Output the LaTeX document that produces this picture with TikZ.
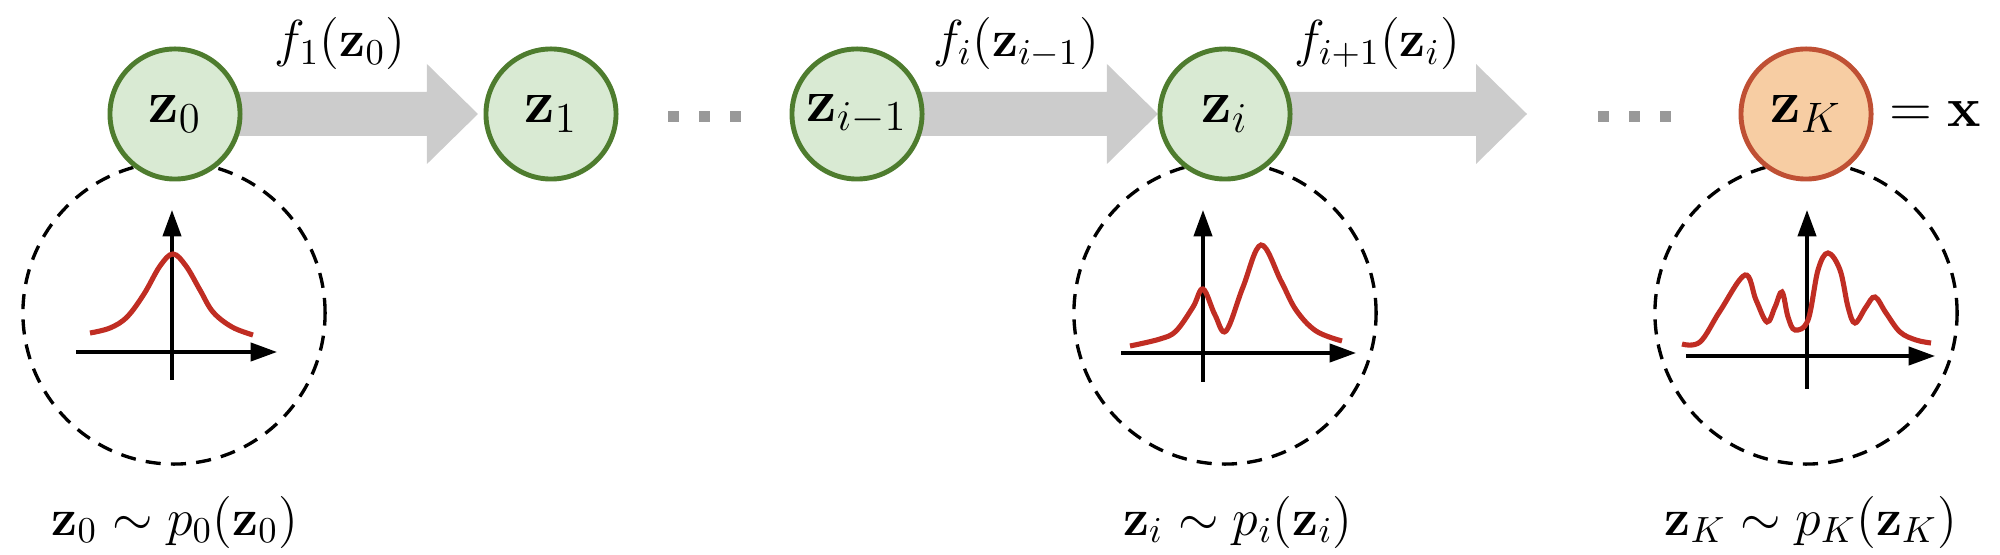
\RequirePackage{fix-cm}
\documentclass[tikz,border=0pt]{standalone}
\usetikzlibrary{calc,backgrounds,arrows.meta}
\definecolor{nodefill}{RGB}{217,234,211}
\definecolor{nodegreen}{RGB}{78,124,46}
\definecolor{outfill}{RGB}{247,205,163}
\definecolor{outstroke}{RGB}{191,80,52}
\definecolor{curvered}{RGB}{192,45,35}
\definecolor{arrowgray}{RGB}{204,204,204}
\definecolor{dotgray}{RGB}{153,153,153}
\newcommand{\fatarrow}[2]{%
  \fill[arrowgray] ($(#1)+(0,-22)$) -- ($(#2)+(-51,-22)$) -- ($(#2)+(-51,-50)$)
    -- (#2) -- ($(#2)+(-51,50)$) -- ($(#2)+(-51,22)$) -- ($(#1)+(0,22)$) -- cycle;}
\tikzset{
  zn/.style={circle, draw=nodegreen, fill=nodefill, line width=1.4pt,
    minimum size=1.30cm, inner sep=0pt, outer sep=0pt,
    font=\fontsize{17.3}{20}\selectfont},
  zout/.style={zn, draw=outstroke, fill=outfill},
  distcirc/.style={circle, draw, dash pattern=on 4.3pt off 2.9pt, line width=0.95pt,
    minimum size=3.02cm, inner sep=0pt, outer sep=0pt},
  lbl/.style={inner sep=0pt, outer sep=0pt, font=\fontsize{14.8}{18}\selectfont},
  dotsq/.style={rectangle, fill=dotgray, minimum size=0.11cm, inner sep=0pt},
  axisline/.style={line width=0.95pt, -{Triangle[length=7.5pt,width=5.2pt]}},
  density/.style={curvered, line width=1.45pt, smooth, tension=0.6}
}
\begin{document}
\begin{tikzpicture}[x=0.01cm, y=-0.01cm]
\useasboundingbox (0,0) rectangle (2000,555);

% dashed distribution circles
\node[distcirc] (c0) at (174,313) {};
\node[distcirc] (ci) at (1225,313) {};
\node[distcirc] (cK) at (1806,313) {};

% density plots
\begin{scope}[shift={(172,352)}, yscale=-1]
  \draw[axisline] (-96,0) -- (105,0);
  \draw[axisline] (0,-28) -- (0,142);
  \draw[density] plot coordinates {(-82,19) (-62,24) (-45,35) (-28,58) (-12,86) (1,98) (14,86) (28,62) (41,40) (60,25) (81,17)};
\end{scope}
\begin{scope}[shift={(1203,353)}, yscale=-1]
  \draw[axisline] (-82,0) -- (153,0);
  \draw[axisline] (0,-29) -- (0,143);
  \draw[density] plot coordinates {(-73,7) (-43,14) (-27,22) (-10,46) (0,64) (12,38) (23,22) (40,66) (58,108) (78,72) (93,43) (113,22) (139,12)};
\end{scope}
\begin{scope}[shift={(1807,356)}, yscale=-1]
  \draw[axisline] (-121,0) -- (128,0);
  \draw[axisline] (0,-33) -- (0,146);
  \draw[density] plot coordinates {(-125,12) (-107,14) (-87,45) (-62,81) (-51,56) (-40,34) (-32,49) (-25,64) (-19,39) (-12,26) (1,36) (11,86) (21,103) (33,86) (41,49) (48,33) (59,49) (68,59) (79,43) (93,24) (109,16) (124,13)};
\end{scope}

% main nodes
\node[zn] (z0) at (175,114) {$\mathbf{z}_0$};
\node[zn] (z1) at (551,114) {$\mathbf{z}_1$};
\node[zn] (zim1) at (857,114) {$\mathbf{z}_{i-1}$};
\node[zn] (zi) at (1225,114) {$\mathbf{z}_i$};
\node[zout] (zK) at (1806,114) {$\mathbf{z}_K$};
\node[lbl, anchor=west, font=\fontsize{16}{19}\selectfont] (eqx) at (1889,114) {$=\mathbf{x}$};

% ellipsis dots
\node[dotsq] (d1) at (673,117) {};
\node[dotsq] (d2) at (704,117) {};
\node[dotsq] (d3) at (735,117) {};
\node[dotsq] (d4) at (1603,117) {};
\node[dotsq] (d5) at (1634,117) {};
\node[dotsq] (d6) at (1665,117) {};

% fat arrows
\coordinate (t1) at ($(z1.west)+(-8,0)$);
\coordinate (t2) at ($(zi.west)+(-2,0)$);
\coordinate (t3) at (1527,114);
\begin{pgfonlayer}{background}
  \fatarrow{z0.center}{t1}
  \fatarrow{zim1.center}{t2}
  \fatarrow{zi.center}{t3}
\end{pgfonlayer}

% arrow labels
\node[lbl, anchor=base] (f1) at (340,57) {$f_1(\mathbf{z}_0)$};
\node[lbl, anchor=base] (fi) at (1016,57) {$f_i(\mathbf{z}_{i-1})$};
\node[lbl, anchor=base] (fip) at (1377,57) {$f_{i+1}(\mathbf{z}_i)$};

% distribution labels
\node[lbl, anchor=base] (p0) at (175,535) {$\mathbf{z}_0\sim p_0(\mathbf{z}_0)$};
\node[lbl, anchor=base] (pi) at (1238,535) {$\mathbf{z}_i\sim p_i(\mathbf{z}_i)$};
\node[lbl, anchor=base] (pK) at (1811,535) {$\mathbf{z}_K\sim p_K(\mathbf{z}_K)$};
\end{tikzpicture}
\end{document}
